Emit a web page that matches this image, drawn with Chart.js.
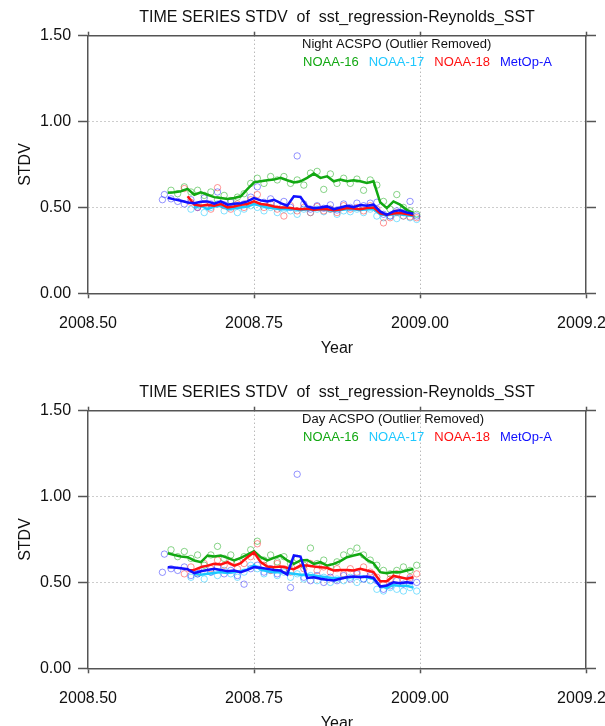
<!DOCTYPE html>
<html>
<head>
<meta charset="utf-8">
<script src="https://cdn.jsdelivr.net/npm/chart.js@4.4.0/dist/chart.umd.min.js"></script>
<style>
  html, body { margin: 0; padding: 0; background: #fff; width: 605px; height: 726px; overflow: hidden; position: relative; }
  .panel { position: absolute; left: 0; width: 640px; height: 372px; }
</style>
</head>
<body>
<div class="panel" style="top:0"><canvas id="night"></canvas></div>
<div class="panel" style="top:374.5px"><canvas id="day"></canvas></div>
<script>
// time axis of the smoothed lines and of the daily circles
const lineYears = [2008.62, 2008.63, 2008.64, 2008.65, 2008.66, 2008.67, 2008.68, 2008.69, 2008.70, 2008.71,
  2008.72, 2008.73, 2008.74, 2008.75, 2008.76, 2008.77, 2008.78, 2008.79, 2008.80, 2008.81,
  2008.82, 2008.83, 2008.84, 2008.85, 2008.86, 2008.87, 2008.88, 2008.89, 2008.90, 2008.91,
  2008.92, 2008.93, 2008.94, 2008.95, 2008.96, 2008.97, 2008.98, 2008.99];
const pointYears = [2008.615, 2008.625, 2008.635, 2008.645, 2008.655, 2008.665, 2008.675, 2008.685, 2008.695, 2008.705,
  2008.715, 2008.725, 2008.735, 2008.745, 2008.755, 2008.765, 2008.775, 2008.785, 2008.795, 2008.805,
  2008.815, 2008.825, 2008.835, 2008.845, 2008.855, 2008.865, 2008.875, 2008.885, 2008.895, 2008.905,
  2008.915, 2008.925, 2008.935, 2008.945, 2008.955, 2008.965, 2008.975, 2008.985, 2008.995];

const seriesNames = ["NOAA-16", "NOAA-17", "NOAA-18", "MetOp-A"];
const xTicks = [2008.50, 2008.75, 2009.00, 2009.25];
const yTicks = [0.00, 0.50, 1.00, 1.50];

// Night panel
const nightN16Line = [0.585, 0.588, 0.594, 0.608, 0.574, 0.588, 0.574, 0.560, 0.555, 0.549, 0.555, 0.565, 0.607, 0.646, 0.652, 0.658, 0.662, 0.672, 0.658, 0.646,
  0.652, 0.672, 0.697, 0.672, 0.681, 0.652, 0.662, 0.652, 0.658, 0.652, 0.642, 0.652, 0.530, 0.496, 0.535, 0.516, 0.486, 0.468];
const nightN17Line = [null, null, null, null, 0.50, 0.51, 0.49, 0.505, 0.51, 0.49, 0.495, 0.50, 0.505, 0.52, 0.51, 0.50, 0.495, 0.49, 0.49, 0.49,
  0.485, 0.49, 0.485, 0.49, 0.485, 0.48, 0.485, 0.49, 0.49, 0.485, 0.49, 0.49, 0.46, 0.455, 0.46, 0.46, 0.455, 0.45];
const nightN18Line = [null, null, null, 0.565, 0.516, 0.510, 0.516, 0.510, 0.520, 0.500, 0.506, 0.516, 0.520, 0.535, 0.520, 0.516, 0.506, 0.500, 0.500, 0.494,
  0.490, 0.492, 0.486, 0.490, 0.490, 0.483, 0.488, 0.496, 0.494, 0.490, 0.496, 0.500, 0.465, 0.457, 0.465, 0.468, 0.462, 0.455];
const nightMetopLine = [0.556, 0.547, 0.539, 0.529, 0.525, 0.533, 0.535, 0.522, 0.535, 0.516, 0.522, 0.525, 0.535, 0.555, 0.541, 0.535, 0.545, 0.525, 0.510, 0.565,
  0.561, 0.506, 0.496, 0.500, 0.506, 0.490, 0.500, 0.510, 0.502, 0.514, 0.510, 0.516, 0.477, 0.457, 0.477, 0.483, 0.471, 0.463];

const nightN16Pts = [null, 0.60, 0.58, 0.62, 0.59, 0.60, 0.57, 0.59, 0.545, 0.57, 0.54, 0.56, 0.58, 0.64, 0.67, 0.64, 0.68, 0.66, 0.68, 0.64,
  0.66, 0.63, 0.70, 0.71, 0.605, 0.695, 0.64, 0.67, 0.64, 0.665, 0.60, 0.66, 0.63, 0.535, 0.49, 0.575, 0.50, 0.48, 0.46];
const nightN17Pts = [null, null, null, null, 0.49, 0.51, 0.47, 0.50, 0.52, 0.48, 0.50, 0.47, 0.49, 0.51, 0.50, 0.48, 0.50, 0.47, 0.49, 0.48,
  0.46, 0.49, 0.47, 0.49, 0.475, 0.49, 0.46, 0.48, 0.475, 0.49, 0.47, 0.49, 0.45, 0.44, 0.45, 0.435, 0.45, 0.44, 0.43];
const nightN18Pts = [null, null, null, 0.61, 0.53, 0.50, 0.52, 0.49, 0.615, 0.51, 0.49, 0.52, 0.50, 0.545, 0.575, 0.50, 0.52, 0.49, 0.45, 0.51,
  0.48, 0.50, 0.47, 0.505, 0.48, 0.49, 0.47, 0.51, 0.49, 0.50, 0.48, 0.51, 0.49, 0.41, 0.44, 0.47, 0.45, 0.445, 0.44];
const nightMetopPts = [0.575, 0.55, 0.535, 0.52, 0.545, 0.50, 0.555, 0.52, 0.59, 0.515, 0.53, 0.51, 0.52, 0.56, 0.62, 0.53, 0.55, 0.52, 0.535, 0.50,
  0.80, 0.52, 0.49, 0.51, 0.495, 0.515, 0.485, 0.52, 0.50, 0.525, 0.51, 0.525, 0.53, 0.46, 0.45, 0.48, 0.47, 0.535, 0.45];
const nightExtraYears = [2008.612];
const nightExtraMetop = [0.545];

// Day panel
const dayN16Line = [0.670, 0.660, 0.651, 0.647, 0.628, 0.618, 0.657, 0.651, 0.657, 0.643, 0.628, 0.643, 0.662, 0.682, 0.647, 0.628, 0.643, 0.657, 0.628, 0.608,
  0.628, 0.631, 0.608, 0.618, 0.598, 0.608, 0.624, 0.647, 0.657, 0.666, 0.631, 0.612, 0.560, 0.554, 0.561, 0.560, 0.569, 0.578];
const dayN17Line = [null, null, null, null, 0.55, 0.545, 0.55, 0.555, 0.56, 0.555, 0.56, 0.565, 0.575, 0.60, 0.575, 0.565, 0.56, 0.56, 0.555, 0.55,
  0.545, 0.545, 0.54, 0.535, 0.53, 0.525, 0.525, 0.53, 0.53, 0.535, 0.53, 0.52, 0.48, 0.47, 0.485, 0.48, 0.48, 0.47];
const dayN18Line = [null, null, null, 0.569, 0.573, 0.589, 0.598, 0.608, 0.604, 0.618, 0.598, 0.612, 0.647, 0.676, 0.618, 0.593, 0.589, 0.593, 0.585, 0.577,
  0.598, 0.598, 0.593, 0.589, 0.585, 0.569, 0.573, 0.573, 0.569, 0.579, 0.569, 0.560, 0.507, 0.507, 0.538, 0.530, 0.521, 0.530];
const dayMetopLine = [0.589, 0.587, 0.583, 0.577, 0.554, 0.565, 0.573, 0.579, 0.573, 0.565, 0.569, 0.560, 0.573, 0.589, 0.585, 0.579, 0.573, 0.569, 0.546, 0.657,
  0.651, 0.526, 0.530, 0.521, 0.515, 0.511, 0.521, 0.530, 0.534, 0.530, 0.534, 0.526, 0.476, 0.482, 0.501, 0.495, 0.501, 0.495];

const dayN16Pts = [null, 0.69, 0.65, 0.68, 0.64, 0.66, 0.60, 0.66, 0.71, 0.64, 0.66, 0.62, 0.65, 0.69, 0.74, 0.63, 0.66, 0.62, 0.65, 0.61,
  0.64, 0.60, 0.70, 0.61, 0.63, 0.59, 0.62, 0.66, 0.68, 0.70, 0.66, 0.63, 0.60, 0.57, 0.55, 0.57, 0.59, 0.57, 0.60];
const dayN17Pts = [null, null, null, null, 0.53, 0.55, 0.52, 0.56, 0.54, 0.57, 0.55, 0.53, 0.56, 0.60, 0.58, 0.55, 0.57, 0.54, 0.56, 0.53,
  0.55, 0.52, 0.54, 0.51, 0.53, 0.50, 0.52, 0.51, 0.53, 0.50, 0.52, 0.51, 0.46, 0.45, 0.47, 0.46, 0.45, 0.47, 0.45];
const dayN18Pts = [null, null, null, 0.55, 0.59, 0.56, 0.61, 0.58, 0.63, 0.60, 0.62, 0.58, 0.61, 0.65, 0.725, 0.60, 0.57, 0.61, 0.58, 0.56,
  0.60, 0.58, 0.61, 0.57, 0.59, 0.56, 0.58, 0.55, 0.58, 0.56, 0.59, 0.56, 0.53, 0.49, 0.52, 0.55, 0.51, 0.53, 0.55];
const dayMetopPts = [0.665, 0.58, 0.57, 0.59, 0.54, 0.55, 0.58, 0.56, 0.59, 0.55, 0.57, 0.54, 0.49, 0.58, 0.60, 0.56, 0.58, 0.55, 0.57, 0.47,
  1.13, 0.53, 0.51, 0.54, 0.50, 0.53, 0.51, 0.54, 0.52, 0.55, 0.52, 0.54, 0.51, 0.46, 0.48, 0.51, 0.49, 0.52, 0.50];
const dayExtraYears = [2008.612];
const dayExtraMetop = [0.559];

const lineColors = ["#12a812", "#1ec8ff", "#ff1010", "#1010ff"];
const circleColors = ["rgba(20,170,20,0.5)", "rgba(30,200,255,0.55)", "rgba(255,20,20,0.45)", "rgba(20,20,255,0.45)"];
const FONT = "'Liberation Sans', Arial, Helvetica, sans-serif";
const AXIS = "#555";

Chart.defaults.font.family = FONT;
Chart.defaults.color = "#111";

const toXY = (xs, ys) => xs.map((x, i) => ({ x: x, y: ys[i] }));

// inner heading and coloured satellite names
const panelText = {
  id: "panelText",
  afterDraw(chart, args, opts) {
    const { ctx, chartArea } = chart;
    ctx.save();
    ctx.font = "13px " + FONT;
    ctx.textBaseline = "middle";
    ctx.fillStyle = "#111";
    ctx.fillText(opts.heading, chartArea.left + 214, chartArea.top + 8.5);
    let x = chartArea.left + 215;
    seriesNames.forEach((name, i) => {
      ctx.fillStyle = lineColors[i];
      ctx.fillText(name, x, chartArea.top + 26.5);
      x += ctx.measureText(name).width + 10;
    });
    ctx.restore();
  }
};

function makePanel(canvasId, heading, lines, pts, extraYears, extraMetop) {
  const datasets = [];
  // lines: blue on top, then red, green, cyan
  [3, 2, 0, 1].forEach((s) => {
    datasets.push({
      type: "line",
      label: seriesNames[s],
      data: toXY(lineYears, lines[s]),
      borderColor: lineColors[s],
      borderWidth: 2.5,
      pointRadius: 0,
      tension: 0,
      fill: false,
      spanGaps: false
    });
  });
  [3, 2, 0, 1].forEach((s) => {
    datasets.push({
      type: "scatter",
      label: seriesNames[s] + " daily",
      data: toXY(pointYears, pts[s]).filter((p) => p.y !== null),
      borderColor: circleColors[s],
      backgroundColor: "rgba(0,0,0,0)",
      borderWidth: 1,
      pointRadius: 3.2
    });
  });
  datasets.push({
    type: "scatter",
    label: "MetOp-A extra",
    data: toXY(extraYears, extraMetop),
    borderColor: circleColors[3],
    backgroundColor: "rgba(0,0,0,0)",
    borderWidth: 1,
    pointRadius: 3.2
  });

  const edgeX = (c) => (c.index === 0 || c.index === xTicks.length - 1) ? "rgba(0,0,0,0)" : "#9a9a9a";
  const edgeY = (c) => (c.index === 0 || c.index === yTicks.length - 1) ? "rgba(0,0,0,0)" : "#9a9a9a";

  return new Chart(document.getElementById(canvasId), {
    type: "line",
    data: { datasets: datasets },
    plugins: [panelText],
    options: {
      responsive: true,
      maintainAspectRatio: false,
      animation: false,
      devicePixelRatio: 1,
      layout: { padding: { left: 11.5, right: 44, top: 0, bottom: 10.3 } },
      plugins: {
        legend: { display: false },
        tooltip: { enabled: false },
        title: {
          display: true,
          fullSize: false,
          text: "TIME SERIES STDV  of  sst_regression-Reynolds_SST",
          color: "#111",
          font: { size: 16, weight: "normal" },
          padding: { top: 8, bottom: 4.5 }
        },
        panelText: { heading: heading }
      },
      scales: {
        x: {
          type: "linear",
          position: "bottom",
          min: xTicks[0],
          max: xTicks[xTicks.length - 1],
          afterBuildTicks: (s) => { s.ticks = xTicks.map((v) => ({ value: v })); },
          ticks: { padding: 15.5, maxRotation: 0, autoSkip: false, font: { size: 16 }, color: "#111",
                   callback: (v) => Number(v).toFixed(2) },
          grid: { color: edgeX, lineWidth: 1, tickLength: 5, tickColor: AXIS, tickWidth: 1.5, tickBorderDash: [] },
          border: { color: AXIS, width: 1.5, dash: [1, 3] },
          title: { display: true, text: "Year", font: { size: 16 }, color: "#111", padding: { top: -10, bottom: 4 } }
        },
        y: {
          type: "linear",
          position: "left",
          min: yTicks[0],
          max: yTicks[yTicks.length - 1],
          afterBuildTicks: (s) => { s.ticks = yTicks.map((v) => ({ value: v })); },
          ticks: { padding: 7, font: { size: 16 }, color: "#111", callback: (v) => Number(v).toFixed(2) },
          grid: { color: edgeY, lineWidth: 1, tickLength: 10, tickColor: AXIS, tickWidth: 1.5, tickBorderDash: [] },
          border: { color: AXIS, width: 1.5, dash: [1, 3] },
          title: { display: true, text: "STDV", font: { size: 16 }, color: "#111", padding: { top: 4, bottom: -1.8 } }
        },
        x2: {
          type: "linear",
          position: "top",
          min: xTicks[0],
          max: xTicks[xTicks.length - 1],
          afterBuildTicks: (s) => { s.ticks = xTicks.map((v) => ({ value: v })); },
          ticks: { display: false },
          grid: { drawOnChartArea: false, tickLength: 4, tickColor: AXIS, tickWidth: 1.5 },
          border: { color: AXIS, width: 1.5 }
        },
        y2: {
          type: "linear",
          position: "right",
          min: yTicks[0],
          max: yTicks[yTicks.length - 1],
          afterBuildTicks: (s) => { s.ticks = yTicks.map((v) => ({ value: v })); },
          ticks: { display: false },
          grid: { drawOnChartArea: false, tickLength: 10, tickColor: AXIS, tickWidth: 1.5 },
          border: { color: AXIS, width: 1.5 }
        }
      }
    }
  });
}

makePanel("night", "Night ACSPO (Outlier Removed)",
  [nightN16Line, nightN17Line, nightN18Line, nightMetopLine],
  [nightN16Pts, nightN17Pts, nightN18Pts, nightMetopPts], nightExtraYears, nightExtraMetop);
makePanel("day", "Day ACSPO (Outlier Removed)",
  [dayN16Line, dayN17Line, dayN18Line, dayMetopLine],
  [dayN16Pts, dayN17Pts, dayN18Pts, dayMetopPts], dayExtraYears, dayExtraMetop);
</script>
</body>
</html>
